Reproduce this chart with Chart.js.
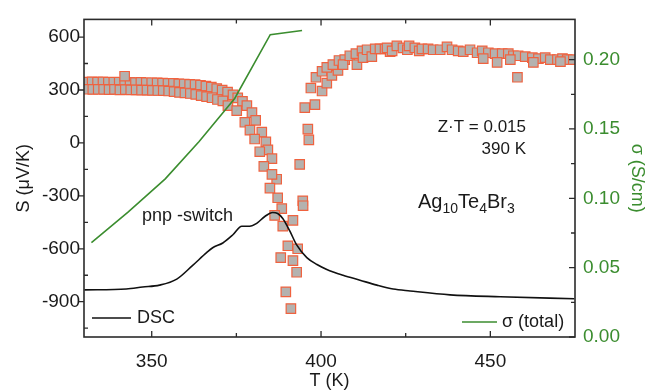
<!DOCTYPE html>
<html>
<head>
<meta charset="utf-8">
<script src="https://cdn.jsdelivr.net/npm/chart.js@4.4.0/dist/chart.umd.min.js"></script>
<style>
  body { margin: 0; background: #fff; }
</style>
</head>
<body>
<canvas id="chart" width="653" height="392"></canvas>
<script>
// Seebeck coefficient S (µV/K) vs T (K), heating + cooling runs
const seebeckT = [
  330.8, 332.4, 334.0, 335.6, 337.2, 338.8, 340.4, 342.0, 343.6, 345.2, 346.8, 348.4, 350.0, 351.6,
  353.2, 354.8, 356.4, 358.0, 359.6, 361.2, 362.8, 364.4, 366.0, 367.6, 369.2, 370.8, 372.4, 374.0,
  375.4, 376.8, 378.1, 379.6, 380.7, 382.5, 383.7, 384.3, 385.5, 386.9, 387.2, 388.4, 388.7, 390.2,
  391.7, 392.8, 342.0,
  331.0, 332.6, 334.2, 335.8, 337.4, 339.0, 340.6, 342.2, 343.8, 345.4, 347.0, 348.6, 350.2, 351.8,
  353.4, 355.0, 356.6, 358.2, 359.8, 361.4, 363.0, 364.6, 366.2, 367.8, 369.4, 371.0, 372.5, 375.1,
  377.5, 379.0, 380.4, 381.9, 383.1, 384.9, 385.5, 386.3, 388.1, 389.6, 391.1, 391.7, 393.1,
  393.7, 394.6, 394.7, 396.1, 396.4, 395.2, 398.2, 397.0, 400.3, 398.5, 401.7, 400.3, 403.2, 401.7,
  405.0, 403.5, 405.3, 407.0, 406.5, 408.5, 410.6, 410.3, 412.1, 412.4, 413.6, 415.0, 416.0, 417.4,
  418.9, 420.4, 419.5, 421.0, 422.4, 424.2, 425.5, 426.0, 427.7, 429.0, 429.8, 431.6, 433.1, 435.2,
  437.2, 438.7, 440.5, 442.0, 444.0, 446.1, 447.6, 449.4, 451.4, 453.5, 455.3, 456.8, 458.2, 460.3,
  462.4, 464.2, 466.2, 467.7, 469.8, 471.3, 472.7, 474.5, 447.9, 452.0, 455.9, 462.7, 470.7, 458.0
];
const seebeckS = [
  345, 346, 345, 346, 344, 345, 344, 343, 344, 342, 343, 341, 341, 340,
  339, 338, 337, 335, 334, 332, 330, 327, 322, 316, 308, 299, 288, 272,
  255, 235, 211, 172, 128, 61, 6, -39, -89, -206, -311, -372, -472, -583,
  -667, -733, 378,
  304, 303, 304, 303, 302, 303, 301, 302, 300, 301, 299, 299, 298, 297,
  296, 294, 291, 286, 283, 280, 275, 268, 262, 256, 246, 238, 211, 183,
  117, 72, 22, -50, -133, -256, -178, -411, -650, -844, -939, -439, -600,
  -122, -328, -356, 78, 17, 200, 217, 311, 294, 372, 339, 406, 383, 428,
  411, 444, 467, 472, 444, 494, 444, 506, 522, 483, 528, 489, 533, 533,
  533, 517, 539, 522, 550, 539, 528, 550, 539, 522, 533, 533, 528, 528,
  544, 528, 522, 517, 528, 511, 522, 511, 506, 506, 506, 494, 494, 489,
  483, 478, 483, 472, 472, 478, 472, 472, 478, 456, 472, 456, 461, 372
];

// DSC trace (arbitrary units, drawn on the S axis)
const dscT = [330.1, 342.5, 347.3, 352.3, 357.4, 362.1, 366.2, 368.0, 371.0, 373.9, 376.6, 378.9,
  381.0, 383.4, 385.7, 387.2, 388.7, 390.8, 392.8, 395.8, 398.8, 401.7, 406.5, 411.5, 416.5,
  421.3, 426.3, 438.1, 452.9, 474.8];
const dscS = [-833, -828, -817, -806, -772, -694, -622, -594, -567, -522, -472, -472,
  -456, -417, -394, -400, -428, -500, -578, -650, -689, -717, -750, -778, -806,
  -828, -839, -861, -872, -883];

// total conductivity sigma (S/cm)
const sigmaT = [332.2, 343.0, 354.0, 364.0, 374.5, 385.0, 394.4];
const sigmaVal = [0.068, 0.090, 0.114, 0.141, 0.172, 0.218, 0.221];

const xTicks = [350, 400, 450];
const xMinor = [375, 425];
const yTicks = [-900, -600, -300, 0, 300, 600];
const yMinor = [-1050, -750, -450, -150, 150, 450];
const y2Ticks = [0, 0.05, 0.10, 0.15, 0.20];
const y2Minor = [0.025, 0.075, 0.125, 0.175];

const green = '#3b8d2f';
const font = '"Liberation Sans", Arial, sans-serif';

const framePlugin = {
  id: 'frame',
  afterDatasetsDraw(chart) {
    const {ctx, chartArea: a, scales} = chart;
    ctx.save();
    ctx.strokeStyle = '#2b2b2b';
    ctx.lineWidth = 1.3;
    ctx.beginPath();
    xTicks.forEach(v => {
      const p = scales.x.getPixelForValue(v);
      ctx.moveTo(p, a.bottom); ctx.lineTo(p, a.bottom - 6);
      ctx.moveTo(p, a.top); ctx.lineTo(p, a.top + 6);
    });
    xMinor.forEach(v => {
      const p = scales.x.getPixelForValue(v);
      ctx.moveTo(p, a.bottom); ctx.lineTo(p, a.bottom - 4);
      ctx.moveTo(p, a.top); ctx.lineTo(p, a.top + 4);
    });
    yTicks.forEach(v => {
      const p = scales.y.getPixelForValue(v);
      ctx.moveTo(a.left, p); ctx.lineTo(a.left - 5, p);
    });
    yMinor.forEach(v => {
      const p = scales.y.getPixelForValue(v);
      ctx.moveTo(a.left, p); ctx.lineTo(a.left + 4, p);
    });
    y2Ticks.forEach(v => {
      const p = scales.y2.getPixelForValue(v);
      ctx.moveTo(a.right, p); ctx.lineTo(a.right - 6, p);
    });
    y2Minor.forEach(v => {
      const p = scales.y2.getPixelForValue(v);
      ctx.moveTo(a.right, p); ctx.lineTo(a.right - 4, p);
    });
    ctx.stroke();
    ctx.lineWidth = 1.6;
    ctx.strokeRect(a.left, a.top, a.right - a.left, a.bottom - a.top);
    ctx.restore();
  },
  afterDraw(chart) {
    const ctx = chart.ctx;
    ctx.save();
    ctx.fillStyle = '#1a1a1a';
    ctx.textBaseline = 'middle';
    ctx.font = '18px ' + font;
    ctx.textAlign = 'left';
    ctx.fillText('pnp -switch', 142, 216);
    ctx.font = '17px ' + font;
    ctx.textAlign = 'right';
    ctx.fillText('Z\u00B7T = 0.015', 526, 127);
    ctx.fillText('390 K', 526, 149);

    // formula with subscripts
    ctx.textAlign = 'left';
    ctx.textBaseline = 'alphabetic';
    let x = 418;
    const base = 208;
    [['Ag', false], ['10', true], ['Te', false], ['4', true], ['Br', false], ['3', true]].forEach(([t, sub]) => {
      ctx.font = (sub ? '14px ' : '20px ') + font;
      ctx.fillText(t, x, sub ? base + 5 : base);
      x += ctx.measureText(t).width;
    });

    // legend entries
    ctx.textBaseline = 'middle';
    ctx.font = '18px ' + font;
    ctx.lineWidth = 1.6;
    ctx.strokeStyle = '#111';
    ctx.beginPath(); ctx.moveTo(92, 318); ctx.lineTo(131, 318); ctx.stroke();
    ctx.fillText('DSC', 137, 318);
    ctx.strokeStyle = green;
    ctx.beginPath(); ctx.moveTo(462, 322); ctx.lineTo(497, 322); ctx.stroke();
    ctx.fillText('\u03C3 (total)', 502, 322);
    ctx.restore();
  }
};

new Chart(document.getElementById('chart'), {
  type: 'scatter',
  data: {
    datasets: [
      {
        label: 'σ (total)',
        data: sigmaT.map((t, i) => ({x: t, y: sigmaVal[i]})),
        yAxisID: 'y2',
        showLine: true,
        borderColor: green,
        borderWidth: 1.6,
        pointRadius: 0,
        tension: 0
      },
      {
        label: 'DSC',
        data: dscT.map((t, i) => ({x: t, y: dscS[i]})),
        yAxisID: 'y',
        showLine: true,
        borderColor: '#111',
        borderWidth: 1.6,
        pointRadius: 0,
        cubicInterpolationMode: 'monotone'
      },
      {
        label: 'S',
        data: seebeckT.map((t, i) => ({x: t, y: seebeckS[i]})),
        yAxisID: 'y',
        pointStyle: 'rect',
        pointRadius: 6.7,
        backgroundColor: '#b4b2af',
        borderColor: '#f0623f',
        borderWidth: 1.2
      }
    ]
  },
  options: {
    responsive: false,
    animation: false,
    layout: {padding: {top: 12, left: 0, right: 0, bottom: 0}},
    plugins: {legend: {display: false}, tooltip: {enabled: false}},
    scales: {
      x: {
        type: 'linear',
        position: 'bottom',
        min: 330, max: 475,
        afterBuildTicks: s => { s.ticks = xTicks.map(v => ({value: v})); },
        afterFit: s => { s.height = 55; },
        grid: {display: false, drawTicks: false},
        border: {display: false},
        ticks: {color: '#1a1a1a', font: {family: font, size: 19}, padding: 13, callback: v => String(v)},
        title: {display: true, text: 'T (K)', color: '#1a1a1a', font: {family: font, size: 18}, padding: 0}
      },
      y: {
        position: 'left',
        min: -1100, max: 700,
        afterBuildTicks: s => { s.ticks = yTicks.map(v => ({value: v})); },
        afterFit: s => { s.width = 84; },
        grid: {display: false, drawTicks: false},
        border: {display: false},
        ticks: {color: '#1a1a1a', font: {family: font, size: 19}, padding: 4, callback: v => String(v)},
        title: {display: true, text: 'S (\u03BCV/K)', color: '#1a1a1a', font: {family: font, size: 18}, padding: {top: 13, bottom: 0}}
      },
      y2: {
        position: 'right',
        min: 0, max: 0.229,
        afterBuildTicks: s => { s.ticks = y2Ticks.map(v => ({value: v})); },
        afterFit: s => { s.width = 78; },
        grid: {display: false, drawTicks: false},
        border: {display: false},
        ticks: {color: green, font: {family: font, size: 19}, padding: 8, callback: v => v.toFixed(2)},
        title: {display: true, text: '\u03C3 (S/cm)', color: green, font: {family: font, size: 18}, padding: {top: 5, bottom: 0}}
      }
    }
  },
  plugins: [framePlugin]
});
</script>
</body>
</html>
